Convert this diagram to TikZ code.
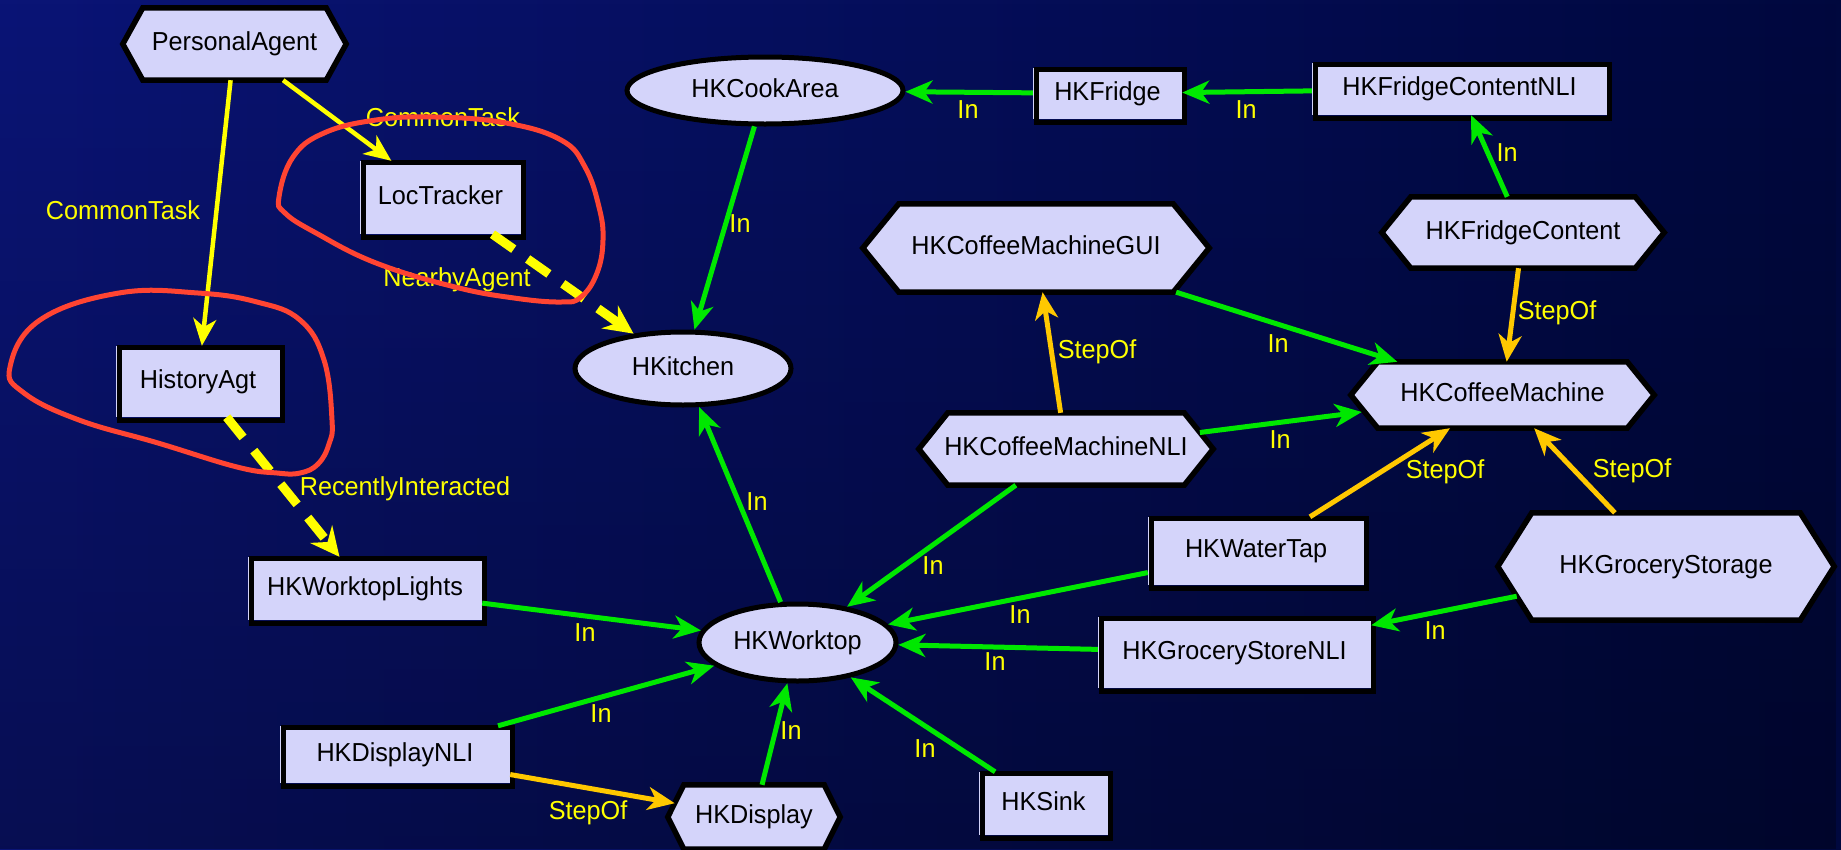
\documentclass[tikz,border=0pt]{standalone}
\usepackage{fontspec}
\setmainfont{Liberation Sans}[FakeStretch=0.97]
\usetikzlibrary{arrows.meta,shapes.geometric,backgrounds,fadings}

\definecolor{bgleft}{RGB}{10,20,118}
\definecolor{bgmid}{RGB}{3,14,98}
\definecolor{bgright}{RGB}{0,8,62}
\definecolor{nodefill}{RGB}{212,212,250}
\definecolor{ingreen}{RGB}{0,232,0}
\definecolor{taskyellow}{RGB}{255,255,0}
\definecolor{stepgold}{RGB}{255,200,0}
\definecolor{loopred}{RGB}{255,68,50}

\newcommand{\graphfont}{\fontsize{26}{30}\selectfont}

\begin{document}
\begin{tikzpicture}[x=1pt,y=-1pt,
  every node/.style={font=\graphfont, inner sep=0pt, text height=19pt, text depth=5.5pt},
  rectnode/.style={rectangle, fill=nodefill},
  ovalnode/.style={ellipse, fill=nodefill, draw=black, line width=5pt},
  hexnode/.style={rectangle},
  hexshape/.style={fill=nodefill, draw=black, line width=5.5pt},
  rectframe/.style={draw=black, line width=5pt},
  edgelabel/.style={text=taskyellow, anchor=base},
  inarrow/.style={draw=ingreen, line width=5pt, -{Stealth[length=27pt,width=23pt,inset=8pt]}},
  steparrow/.style={draw=stepgold, line width=5pt, -{Stealth[length=27pt,width=23pt,inset=8pt]}},
  taskarrow/.style={draw=taskyellow, line width=4.5pt, -{Stealth[length=27pt,width=23pt,inset=8pt]}},
  relarrow/.style={draw=taskyellow, line width=9pt, dash pattern=on 26pt off 17pt, -{Stealth[length=29pt,width=28pt,inset=10pt]}},
  annot/.style={draw=loopred, line width=5pt}
]
\useasboundingbox (0,0) rectangle (1841,849);

% backdrop
\begin{pgfonlayer}{background}
  \shade[left color=bgleft, middle color=bgmid, right color=bgright] (0,0) rectangle (1841,849);
  \fill[black, path fading=north, fill opacity=0.3] (0,0) rectangle (1841,849);
\end{pgfonlayer}

% nodes
\node[hexnode, minimum width=223, minimum height=72] (pa) at (234.5,44) {PersonalAgent};
\node[rectnode, minimum width=161, minimum height=73] (lt) at (440.5,197.5) {LocTracker};
\node[rectnode, minimum width=164, minimum height=71] (ha) at (198,381.5) {HistoryAgt};
\node[ovalnode, minimum width=276, minimum height=67] (cook) at (765,90.5) {HKCookArea};
\node[rectnode, minimum width=149, minimum height=51] (fridge) at (1107.5,93.5) {HKFridge};
\node[rectnode, minimum width=295, minimum height=52] (fcnli) at (1459.5,89) {HKFridgeContentNLI};
\node[hexnode, minimum width=346, minimum height=88] (gui) at (1036,248) {HKCoffeeMachineGUI};
\node[hexnode, minimum width=282, minimum height=71] (fc) at (1523,232.5) {HKFridgeContent};
\node[ovalnode, minimum width=216, minimum height=73] (kitchen) at (683,368.5) {HKitchen};
\node[hexnode, minimum width=303, minimum height=66] (cm) at (1502.5,395) {HKCoffeeMachine};
\node[hexnode, minimum width=294, minimum height=72] (nli) at (1066,449) {HKCoffeeMachineNLI};
\node[rectnode, minimum width=216, minimum height=68] (wt) at (1256,551) {HKWaterTap};
\node[hexnode, minimum width=336, minimum height=107] (gs) at (1666,566.5) {HKGroceryStorage};
\node[rectnode, minimum width=234, minimum height=63] (wl) at (365,588.5) {HKWorktopLights};
\node[ovalnode, minimum width=197, minimum height=77] (worktop) at (797.5,642.5) {HKWorktop};
\node[rectnode, minimum width=273, minimum height=71] (gsnli) at (1234.5,652.5) {HKGroceryStoreNLI};
\node[rectnode, minimum width=230, minimum height=57] (dnli) at (395,754.5) {HKDisplayNLI};
\node[hexnode, minimum width=172, minimum height=64] (disp) at (754,817) {HKDisplay};
\node[rectnode, minimum width=129, minimum height=63] (sink) at (1043.5,803.5) {HKSink};

% hexagon outlines behind the hexagon labels
\begin{pgfonlayer}{background}
  \foreach \n/\i in {pa/20, gui/36, fc/29, cm/27, nli/29, gs/34, disp/16}
    \filldraw[hexshape] (\n.west) -- ([xshift=\i pt]\n.north west) -- ([xshift=-\i pt]\n.north east)
      -- (\n.east) -- ([xshift=-\i pt]\n.south east) -- ([xshift=\i pt]\n.south west) -- cycle;
\end{pgfonlayer}

% offset black frames of the box nodes
\foreach \n in {lt,ha,fridge,fcnli,wt,gsnli,wl,dnli,sink}
  \draw[rectframe] ([xshift=3.5pt,yshift=-2pt]\n.north west) rectangle ([xshift=2.5pt,yshift=-3pt]\n.south east);

% connectors
\draw[taskarrow] (pa) -- (ha);
\draw[taskarrow] (pa) -- (lt);
\draw[relarrow] (lt) -- (kitchen);
\draw[relarrow] (ha) -- (wl);
\draw[inarrow] (fridge) -- (cook);
\draw[inarrow] (fcnli) -- (fridge);
\draw[inarrow] (cook) -- (kitchen);
\draw[inarrow] (fc) -- (fcnli);
\draw[steparrow] (fc) -- (cm);
\draw[inarrow] (gui) -- (cm);
\draw[steparrow] (nli) -- (gui);
\draw[inarrow] ([xshift=-13.3pt,yshift=16.5pt]nli.east) -- ([xshift=11pt,yshift=-17pt]cm.west);
\draw[steparrow] (wt) -- (cm);
\draw[steparrow] (gs) -- (cm);
\draw[inarrow] (worktop) -- (kitchen);
\draw[inarrow] (nli) -- (worktop);
\draw[inarrow] (wt) -- (worktop);
\draw[inarrow] ([xshift=18.9pt,yshift=-29.7pt]gs.west) -- (gsnli);
\draw[inarrow] (wl) -- (worktop);
\draw[inarrow] (gsnli) -- (worktop);
\draw[inarrow] (dnli) -- (worktop);
\draw[inarrow] (disp) -- (worktop);
\draw[inarrow] (sink) -- (worktop);
\draw[steparrow] (dnli) -- ([xshift=6.9pt,yshift=13.8pt]disp.west);

% connector labels
\node[edgelabel] (lab1) at (123,219) {CommonTask};
\node[edgelabel] (lab2) at (443,126) {CommonTask};
\node[edgelabel] (lab3) at (457,286) {NearbyAgent};
\node[edgelabel] (lab4) at (405,495) {RecentlyInteracted};
\node[edgelabel] (lab5) at (968,118) {In};
\node[edgelabel] (lab6) at (1246,118) {In};
\node[edgelabel] (lab7) at (740,232) {In};
\node[edgelabel] (lab8) at (1507,161) {In};
\node[edgelabel] (lab9) at (1278,352) {In};
\node[edgelabel] (lab10) at (1280,448) {In};
\node[edgelabel] (lab11) at (757,510) {In};
\node[edgelabel] (lab12) at (933,574) {In};
\node[edgelabel] (lab13) at (1020,623) {In};
\node[edgelabel] (lab14) at (1435,639) {In};
\node[edgelabel] (lab15) at (585,641) {In};
\node[edgelabel] (lab16) at (995,670) {In};
\node[edgelabel] (lab17) at (601,722) {In};
\node[edgelabel] (lab18) at (791,739) {In};
\node[edgelabel] (lab19) at (925,757) {In};
\node[edgelabel] (lab20) at (1097,358) {StepOf};
\node[edgelabel] (lab21) at (1557,319) {StepOf};
\node[edgelabel] (lab22) at (1445,478) {StepOf};
\node[edgelabel] (lab23) at (1632,477) {StepOf};
\node[edgelabel] (lab24) at (588,819) {StepOf};

% hand-drawn highlight loops
\draw[annot] plot[smooth cycle, tension=0.7] coordinates {
  (279,197) (293,157) (324,133) (376,120) (435,117) (506,123) (561,140) (585,167)
  (599,207) (603,240) (597,273) (581,297) (561,302) (514,298) (455,287) (376,263)
  (316,233) (285,213)};
\draw[annot] plot[smooth cycle, tension=0.7] coordinates {
  (119,293) (198,293) (257,302) (300,320) (324,360) (332,420) (329,444) (318,464)
  (300,473) (277,473) (237,467) (158,443) (79,420) (24,393) (10,367) (40,320)};
\end{tikzpicture}
\end{document}
